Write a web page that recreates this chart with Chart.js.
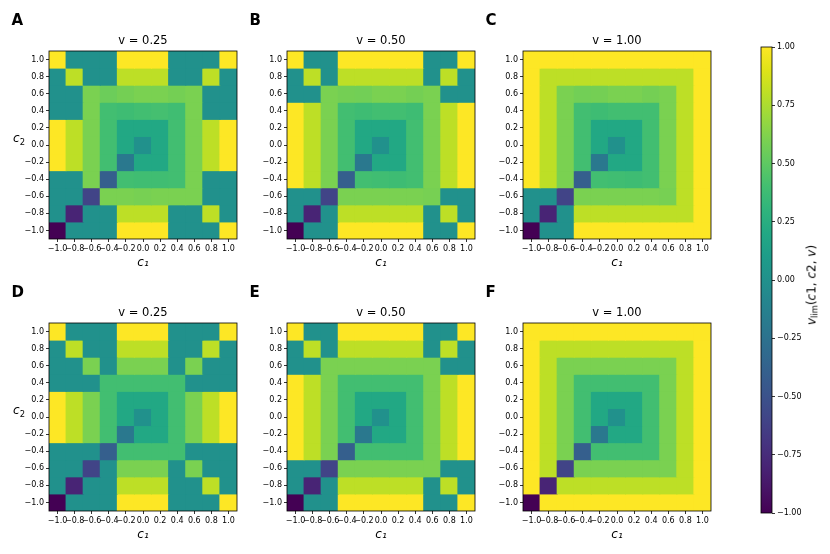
<!DOCTYPE html>
<html>
<head>
<meta charset="utf-8">
<script src="https://cdn.jsdelivr.net/npm/chart.js@4.4.1/dist/chart.umd.min.js"></script>
<style>
  body { margin: 0; background: #fff; }
  #fig { position: relative; width: 830px; height: 554px; overflow: hidden; font-family: "DejaVu Sans", sans-serif; color: #000; }
  .panel { position: absolute; }
  .letter { position: absolute; font-weight: bold; font-size: 15px; line-height: 15px; }
  .ylab { position: absolute; font-size: 12px; line-height: 12px; transform: translate(-50%, -50%); white-space: nowrap; }
  .ylab sub, .cblab sub { font-size: 70%; font-style: normal; vertical-align: -0.25em; }
  .cblab { position: absolute; font-size: 12px; white-space: nowrap; transform: translate(-50%, -50%) rotate(-90deg); }
</style>
</head>
<body>
<div id="fig"></div>
<script>
// axis categories / ticks
const c1Labels = ["−1.0", "−0.8", "−0.6", "−0.4", "−0.2", "0.0", "0.2", "0.4", "0.6", "0.8", "1.0"];
const c2Values = [1.0, 0.8, 0.6, 0.4, 0.2, 0.0, -0.2, -0.4, -0.6, -0.8, -1.0]; // rows, top to bottom
const yTicks = [-1.0, -0.8, -0.6, -0.4, -0.2, 0.0, 0.2, 0.4, 0.6, 0.8, 1.0];
const cbTicks = [-1.0, -0.75, -0.5, -0.25, 0.0, 0.25, 0.5, 0.75, 1.0];
const panelLetters = ["A", "B", "C", "D", "E", "F"];
const panelTitles = ["v = 0.25", "v = 0.50", "v = 1.00", "v = 0.25", "v = 0.50", "v = 1.00"];

// v_lim values, one row per c2 (top to bottom), columns c1 = -1.0 .. 1.0
const gridA = [
  [1, 0, 0, 0, 1, 1, 1, 0, 0, 0, 1],
  [0, 0.8, 0, 0, 0.8, 0.8, 0.8, 0, 0, 0.8, 0],
  [0, 0, 0.6, 0.55, 0.58, 0.6, 0.6, 0.58, 0.6, 0, 0],
  [0, 0, 0.6, 0.4, 0.38, 0.4, 0.41, 0.39, 0.6, 0, 0],
  [1, 0.8, 0.6, 0.4, 0.2, 0.2, 0.2, 0.4, 0.6, 0.8, 1],
  [1, 0.8, 0.6, 0.4, 0.2, 0, 0.2, 0.4, 0.6, 0.8, 1],
  [1, 0.8, 0.6, 0.4, -0.2, 0.2, 0.2, 0.4, 0.6, 0.8, 1],
  [0, 0, 0.6, -0.4, 0.4, 0.39, 0.39, 0.4, 0.6, 0, 0],
  [0, 0, -0.6, 0.6, 0.6, 0.59, 0.6, 0.6, 0.6, 0, 0],
  [0, -0.8, 0, 0, 0.8, 0.8, 0.8, 0, 0, 0.8, 0],
  [-1, 0, 0, 0, 1, 1, 1, 0, 0, 0, 1]
];
const gridB = [
  [1, 0, 0, 1, 1, 1, 1, 1, 0, 0, 1],
  [0, 0.8, 0, 0.8, 0.8, 0.8, 0.8, 0.8, 0, 0.8, 0],
  [0, 0, 0.6, 0.58, 0.57, 0.6, 0.6, 0.58, 0.6, 0, 0],
  [1, 0.8, 0.6, 0.4, 0.38, 0.4, 0.4, 0.38, 0.6, 0.8, 1],
  [1, 0.8, 0.6, 0.4, 0.2, 0.2, 0.2, 0.4, 0.6, 0.8, 1],
  [1, 0.8, 0.6, 0.4, 0.2, 0, 0.2, 0.4, 0.6, 0.8, 1],
  [1, 0.8, 0.6, 0.4, -0.2, 0.2, 0.2, 0.4, 0.6, 0.8, 1],
  [1, 0.8, 0.6, -0.4, 0.4, 0.39, 0.38, 0.4, 0.6, 0.8, 1],
  [0, 0, -0.6, 0.6, 0.6, 0.6, 0.6, 0.6, 0.59, 0, 0],
  [0, -0.8, 0, 0.8, 0.8, 0.8, 0.8, 0.8, 0, 0.8, 0],
  [-1, 0, 0, 1, 1, 1, 1, 1, 0, 0, 1]
];
const gridC = [
  [1, 1, 1, 1, 1, 1, 1, 1, 1, 1, 1],
  [1, 0.8, 0.8, 0.8, 0.8, 0.8, 0.8, 0.8, 0.8, 0.8, 1],
  [1, 0.8, 0.6, 0.57, 0.58, 0.6, 0.6, 0.58, 0.6, 0.8, 1],
  [1, 0.8, 0.6, 0.4, 0.38, 0.4, 0.4, 0.4, 0.6, 0.8, 1],
  [1, 0.8, 0.6, 0.4, 0.2, 0.2, 0.2, 0.4, 0.6, 0.8, 1],
  [1, 0.8, 0.6, 0.4, 0.2, 0, 0.2, 0.4, 0.6, 0.8, 1],
  [1, 0.8, 0.6, 0.4, -0.2, 0.2, 0.2, 0.4, 0.6, 0.8, 1],
  [1, 0.8, 0.6, -0.4, 0.4, 0.39, 0.38, 0.4, 0.6, 0.8, 1],
  [0, 0, -0.6, 0.6, 0.6, 0.6, 0.6, 0.6, 0.59, 0.8, 1],
  [0, -0.8, 0, 0.8, 0.8, 0.8, 0.8, 0.8, 0.8, 0.8, 1],
  [-1, 0, 0, 1, 1, 1, 1, 1, 1, 1, 1]
];
const gridD = [
  [1, 0, 0, 0, 1, 1, 1, 0, 0, 0, 1],
  [0, 0.8, 0, 0, 0.8, 0.8, 0.8, 0, 0, 0.8, 0],
  [0, 0, 0.6, 0, 0.6, 0.6, 0.6, 0, 0.6, 0, 0],
  [0, 0, 0, 0.4, 0.4, 0.4, 0.4, 0.4, 0, 0, 0],
  [1, 0.8, 0.6, 0.4, 0.2, 0.2, 0.2, 0.4, 0.6, 0.8, 1],
  [1, 0.8, 0.6, 0.4, 0.2, 0, 0.2, 0.4, 0.6, 0.8, 1],
  [1, 0.8, 0.6, 0.4, -0.2, 0.2, 0.2, 0.4, 0.6, 0.8, 1],
  [0, 0, 0, -0.4, 0.4, 0.4, 0.4, 0.4, 0, 0, 0],
  [0, 0, -0.6, 0, 0.6, 0.6, 0.6, 0, 0.6, 0, 0],
  [0, -0.8, 0, 0, 0.8, 0.8, 0.8, 0, 0, 0.8, 0],
  [-1, 0, 0, 0, 1, 1, 1, 0, 0, 0, 1]
];
const gridE = [
  [1, 0, 0, 1, 1, 1, 1, 1, 0, 0, 1],
  [0, 0.8, 0, 0.8, 0.8, 0.8, 0.8, 0.8, 0, 0.8, 0],
  [0, 0, 0.6, 0.6, 0.6, 0.6, 0.6, 0.6, 0.6, 0, 0],
  [1, 0.8, 0.6, 0.4, 0.4, 0.4, 0.4, 0.4, 0.6, 0.8, 1],
  [1, 0.8, 0.6, 0.4, 0.2, 0.2, 0.2, 0.4, 0.6, 0.8, 1],
  [1, 0.8, 0.6, 0.4, 0.2, 0, 0.2, 0.4, 0.6, 0.8, 1],
  [1, 0.8, 0.6, 0.4, -0.2, 0.2, 0.2, 0.4, 0.6, 0.8, 1],
  [1, 0.8, 0.6, -0.4, 0.4, 0.4, 0.4, 0.4, 0.6, 0.8, 1],
  [0, 0, -0.6, 0.6, 0.6, 0.6, 0.6, 0.6, 0.6, 0, 0],
  [0, -0.8, 0, 0.8, 0.8, 0.8, 0.8, 0.8, 0, 0.8, 0],
  [-1, 0, 0, 1, 1, 1, 1, 1, 0, 0, 1]
];
const gridF = [
  [1, 1, 1, 1, 1, 1, 1, 1, 1, 1, 1],
  [1, 0.8, 0.8, 0.8, 0.8, 0.8, 0.8, 0.8, 0.8, 0.8, 1],
  [1, 0.8, 0.6, 0.6, 0.6, 0.6, 0.6, 0.6, 0.6, 0.8, 1],
  [1, 0.8, 0.6, 0.4, 0.4, 0.4, 0.4, 0.4, 0.6, 0.8, 1],
  [1, 0.8, 0.6, 0.4, 0.2, 0.2, 0.2, 0.4, 0.6, 0.8, 1],
  [1, 0.8, 0.6, 0.4, 0.2, 0, 0.2, 0.4, 0.6, 0.8, 1],
  [1, 0.8, 0.6, 0.4, -0.2, 0.2, 0.2, 0.4, 0.6, 0.8, 1],
  [1, 0.8, 0.6, -0.4, 0.4, 0.4, 0.4, 0.4, 0.6, 0.8, 1],
  [1, 0.8, -0.6, 0.6, 0.6, 0.6, 0.6, 0.6, 0.6, 0.8, 1],
  [1, -0.8, 0.8, 0.8, 0.8, 0.8, 0.8, 0.8, 0.8, 0.8, 1],
  [-1, 1, 1, 1, 1, 1, 1, 1, 1, 1, 1]
];
const grids = [gridA, gridB, gridC, gridD, gridE, gridF];

// viridis colormap stops (0 .. 1 in steps of 0.05)
const VIRIDIS = ["#440154", "#471365", "#482475", "#463480", "#414487", "#3b528b", "#355f8d",
  "#2f6c8e", "#2a788e", "#25848e", "#21918c", "#1e9c89", "#22a884", "#2fb47c", "#42be71",
  "#5ec962", "#7ad151", "#9bd93c", "#bddf26", "#dfe318", "#fde725"];

const hexRgb = (h) => [1, 3, 5].map((i) => parseInt(h.substr(i, 2), 16));
const viridis = (t) => {
  t = Math.min(1, Math.max(0, t));
  const n = VIRIDIS.length - 1;
  const f = t * n;
  const i = Math.min(n - 1, Math.floor(f));
  const u = f - i;
  const a = hexRgb(VIRIDIS[i]), b = hexRgb(VIRIDIS[i + 1]);
  const c = a.map((v, k) => Math.round(v + (b[k] - v) * u));
  return `rgb(${c[0]},${c[1]},${c[2]})`;
};
const valueColor = (v) => viridis((v + 1) / 2);
const minusFmt = (v, d) => (v < 0 ? "−" : "") + Math.abs(v).toFixed(d);

Chart.defaults.font.family = "DejaVu Sans";
Chart.defaults.color = "#000";

const fig = document.getElementById("fig");

const framePlugin = {
  id: "frame",
  afterDatasetsDraw(chart) {
    const a = chart.chartArea;
    const ctx = chart.ctx;
    ctx.save();
    ctx.strokeStyle = "#000";
    ctx.lineWidth = 0.8;
    ctx.strokeRect(a.left, a.top, a.right - a.left, a.bottom - a.top);
    ctx.restore();
  },
};

const plotLefts = [49, 287, 523];
const plotTops = [51, 323];
const plotSize = 188;
const halfCell = 0.1;
const seam = 0.006;

const tickGrid = {
  display: true,
  drawOnChartArea: false,
  drawTicks: true,
  tickLength: 3,
  tickWidth: 0.8,
  tickColor: "#000",
  offset: false,
};

const makePanel = (idx) => {
  const col = idx % 3;
  const row = Math.floor(idx / 3);
  const grid = grids[idx];
  const w = 49 + plotSize + 6;
  const h = 30 + plotSize + 40;

  let box = document.createElement("div");
  box.className = "panel";
  box.style.left = plotLefts[col] - 49 + "px";
  box.style.top = plotTops[row] - 30 + "px";
  let canvas = document.createElement("canvas");
  canvas.width = w;
  canvas.height = h;
  canvas.style.width = w + "px";
  canvas.style.height = h + "px";
  box.appendChild(canvas);
  fig.appendChild(box);

  let datasets = c2Values.map((c2, r) => ({
    data: grid[r].map(() => [c2 - halfCell - seam, c2 + halfCell + seam]),
    backgroundColor: grid[r].map(valueColor),
    borderWidth: 0,
    grouped: false,
    barPercentage: 1.06,
    categoryPercentage: 1,
  }));

  new Chart(canvas, {
    type: "bar",
    data: { labels: c1Labels, datasets: datasets },
    options: {
      responsive: false,
      animation: false,
      events: [],
      layout: { padding: { left: 0, right: 6, top: 0, bottom: 0 } },
      plugins: {
        legend: { display: false },
        tooltip: { enabled: false },
        title: {
          display: true,
          text: panelTitles[idx],
          fullSize: false,
          color: "#000",
          font: { size: 11.5, weight: "normal" },
          padding: { top: 13, bottom: 3.2 },
        },
      },
      scales: {
        x: {
          type: "category",
          offset: true,
          grid: tickGrid,
          border: { display: false },
          ticks: { autoSkip: false, maxRotation: 0, minRotation: 0, font: { size: 8 }, padding: 2 },
          title: {
            display: true,
            text: "c₁",
            color: "#000",
            font: { size: 12, style: "italic" },
            padding: { top: 0, bottom: 8.5 },
          },
          afterFit: (s) => { s.height = 40; },
        },
        y: {
          type: "linear",
          min: -1.1,
          max: 1.1,
          grid: tickGrid,
          border: { display: false },
          afterBuildTicks: (s) => { s.ticks = yTicks.map((v) => ({ value: v })); },
          ticks: { font: { size: 8 }, padding: 2, callback: (v) => minusFmt(v, 1) },
          afterFit: (s) => { s.width = 49; },
        },
      },
    },
    plugins: [framePlugin],
  });

  let letter = document.createElement("div");
  letter.className = "letter";
  letter.innerText = panelLetters[idx];
  letter.style.left = [11.5, 249.5, 485.5][col] + "px";
  letter.style.top = [13, 285][row] + "px";
  fig.appendChild(letter);

  if (col === 0) {
    let ylab = document.createElement("div");
    ylab.className = "ylab";
    ylab.innerHTML = "<i>c</i><sub>2</sub>";
    ylab.style.left = "19px";
    ylab.style.top = plotTops[row] + 89 + "px";
    fig.appendChild(ylab);
  }
};

for (let i = 0; i < 6; i++) makePanel(i);

// colorbar
let cbBox = document.createElement("div");
cbBox.className = "panel";
cbBox.style.left = "756px";
cbBox.style.top = "40px";
let cbCanvas = document.createElement("canvas");
cbCanvas.width = 56;
cbCanvas.height = 481;
cbCanvas.style.width = "56px";
cbCanvas.style.height = "481px";
cbBox.appendChild(cbCanvas);
fig.appendChild(cbBox);

new Chart(cbCanvas, {
  type: "bar",
  data: {
    labels: ["v"],
    datasets: [
      {
        data: [[cbTicks[0], cbTicks[cbTicks.length - 1]]],
        borderWidth: 0,
        barPercentage: 1,
        categoryPercentage: 1,
        backgroundColor: (ctx) => {
          const chart = ctx.chart;
          const ys = chart.scales.y;
          if (!chart.chartArea || !ys) return VIRIDIS[10];
          const lo = cbTicks[0], hi = cbTicks[cbTicks.length - 1];
          const g = chart.ctx.createLinearGradient(0, ys.getPixelForValue(lo), 0, ys.getPixelForValue(hi));
          VIRIDIS.forEach((c, i) => g.addColorStop(i / (VIRIDIS.length - 1), c));
          return g;
        },
      },
    ],
  },
  options: {
    responsive: false,
    animation: false,
    events: [],
    layout: { padding: { left: 5, right: 0, top: 7, bottom: 8 } },
    plugins: { legend: { display: false }, tooltip: { enabled: false } },
    scales: {
      x: { display: false, offset: true },
      y: {
        position: "right",
        min: -1,
        max: 1,
        grid: tickGrid,
        border: { display: false },
        afterBuildTicks: (s) => { s.ticks = cbTicks.map((v) => ({ value: v })); },
        ticks: { font: { size: 8 }, padding: 2, callback: (v) => minusFmt(v, 2) },
        afterFit: (s) => { s.width = 40; },
      },
    },
  },
  plugins: [framePlugin],
});

let cbLab = document.createElement("div");
cbLab.className = "cblab";
cbLab.innerHTML = "<i>v</i><sub>lim</sub>(<i>c</i>1, <i>c</i>2, <i>v</i>)";
cbLab.style.left = "812px";
cbLab.style.top = "285px";
fig.appendChild(cbLab);
</script>
</body>
</html>
